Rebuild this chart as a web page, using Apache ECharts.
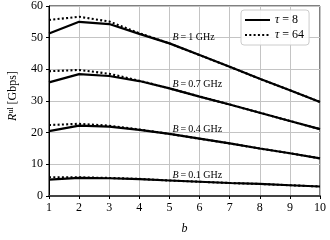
<!DOCTYPE html>
<html>
<head>
<meta charset="utf-8">
<script src="https://cdn.jsdelivr.net/npm/echarts@6/dist/echarts.min.js"></script>
<style>html,body{margin:0;padding:0;background:#fff;}#c{width:330px;height:240px;}</style>
</head>
<body>
<div id="c"></div>
<script>
const bValues = [1, 2, 3, 4, 5, 6, 7, 8, 9, 10];
const yTicks = [0, 10, 20, 30, 40, 50, 60];
const bandLabels = ['1', '0.7', '0.4', '0.1'];
const r_B1_t8  = [51.3, 55.0, 54.3, 51.2, 48.2, 44.5, 40.8, 37.0, 33.4, 29.7];
const r_B1_t64 = [55.6, 56.6, 55.1, 51.4, 48.2, 44.5, 40.8, 37.0, 33.4, 29.7];
const r_B07_t8  = [35.9, 38.5, 37.9, 36.3, 34.0, 31.4, 28.9, 26.3, 23.7, 21.1];
const r_B07_t64 = [39.4, 39.8, 38.6, 36.4, 34.0, 31.4, 28.9, 26.3, 23.7, 21.1];
const r_B04_t8  = [20.5, 22.2, 21.9, 20.9, 19.6, 18.1, 16.6, 15.0, 13.5, 11.9];
const r_B04_t64 = [22.4, 22.8, 22.2, 21.0, 19.6, 18.1, 16.6, 15.0, 13.5, 11.9];
const r_B01_t8  = [5.2, 5.7, 5.6, 5.3, 4.9, 4.5, 4.1, 3.8, 3.4, 3.0];
const r_B01_t64 = [5.9, 5.9, 5.7, 5.4, 4.9, 4.5, 4.1, 3.8, 3.4, 3.0];
const labelAnchors = [[5.1, 50.1], [5.1, 35.4], [5.1, 21.0], [5.1, 6.6]];

const FONT = 'Liberation Serif';
const solidSets = [r_B1_t8, r_B07_t8, r_B04_t8, r_B01_t8];
const dottedSets = [r_B1_t64, r_B07_t64, r_B04_t64, r_B01_t64];
const pairs = arr => bValues.map((b, i) => [b, arr[i]]);

const series = [];
dottedSets.forEach(d => {
  series.push({
    name: 'τ = 64', type: 'line', data: pairs(d), symbol: 'none', z: 2,
    lineStyle: { color: '#000', width: 2.1, type: [2, 2.3] },
    itemStyle: { color: '#000' }
  });
});
solidSets.forEach((d, k) => {
  series.push({
    name: 'τ = 8', type: 'line', data: pairs(d), symbol: 'none', z: 3,
    lineStyle: { color: '#000', width: 2.2 },
    itemStyle: { color: '#000' },
    markPoint: {
      symbol: 'circle', symbolSize: 0, silent: true,
      label: {
        show: true, position: 'right', distance: 0,
        formatter: '{i|B}\u2009=\u2009' + bandLabels[k] + ' GHz',
        fontFamily: FONT, fontSize: 10, color: '#000',
        rich: { i: { fontStyle: 'italic', fontFamily: FONT, fontSize: 10 } }
      },
      data: [{ coord: labelAnchors[k] }]
    }
  });
});

const chart = echarts.init(document.getElementById('c'), null, { renderer: 'canvas' });
chart.setOption({
  animation: false,
  backgroundColor: '#fff',
  grid: { left: 49, right: 10, top: 5, bottom: 36, show: true, borderColor: '#000', borderWidth: 1, containLabel: false },
  xAxis: {
    type: 'value', min: 1, max: 10, interval: 1,
    name: 'b', nameLocation: 'middle', nameGap: 27,
    nameTextStyle: { fontFamily: FONT, fontStyle: 'italic', fontSize: 12, color: '#000' },
    axisLine: { show: true, lineStyle: { color: '#444', width: 2 } },
    axisTick: { show: true, length: 3, lineStyle: { color: '#000' } },
    axisLabel: { fontFamily: FONT, fontSize: 12, color: '#000', margin: 6 },
    splitLine: { show: true, lineStyle: { color: '#c4c4c4', width: 1 } }
  },
  yAxis: {
    type: 'value', min: yTicks[0], max: yTicks[yTicks.length - 1], interval: 10,
    axisLine: { show: true, lineStyle: { color: '#000', width: 1 } },
    axisTick: { show: true, length: 3, lineStyle: { color: '#000' } },
    axisLabel: { fontFamily: FONT, fontSize: 12, color: '#000', margin: 6 },
    splitLine: { show: true, lineStyle: { color: '#c4c4c4', width: 1 } }
  },
  legend: {
    data: ['τ = 8', 'τ = 64'],
    orient: 'vertical', left: 241, top: 10,
    itemWidth: 25, itemHeight: 10, itemGap: 3,
    itemStyle: { opacity: 0 },
    padding: [4, 5, 4, 3],
    backgroundColor: 'rgba(255,255,255,0.9)', borderColor: '#ccc', borderWidth: 1, borderRadius: 3,
    textStyle: { fontFamily: FONT, fontSize: 12, color: '#000', rich: { i: { fontStyle: 'italic', fontFamily: FONT, fontSize: 12 } } },
    formatter: n => n.replace('τ', '{i|τ}')
  },
  graphic: [{
    type: 'text', x: 13, y: 96, rotation: Math.PI / 2,
    style: {
      text: '{i|R}{s|ul} [Gbps]', fontFamily: FONT, fontSize: 12, fill: '#000',
      align: 'center', verticalAlign: 'middle',
      rich: { i: { fontStyle: 'italic', fontFamily: FONT, fontSize: 12 }, s: { fontFamily: FONT, fontSize: 8, verticalAlign: 'top', padding: [0, 0, 5, 0] } }
    }
  }],
  series: series
});
</script>
</body>
</html>
